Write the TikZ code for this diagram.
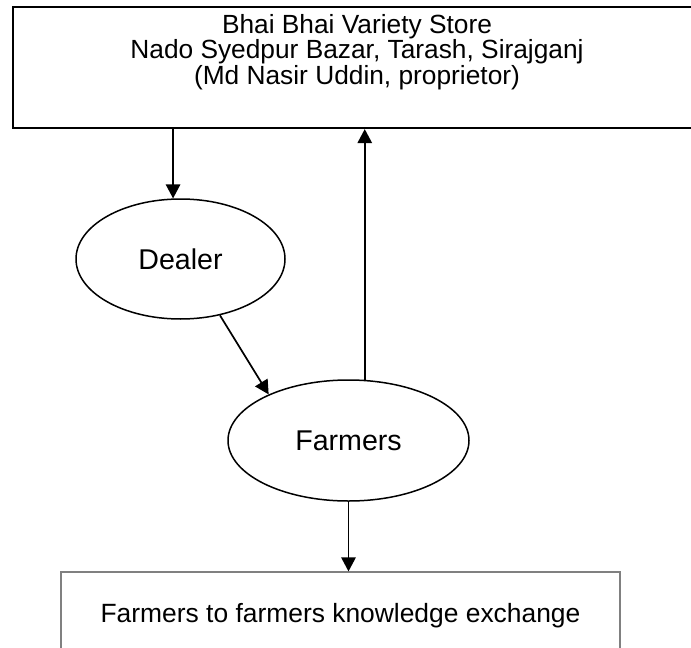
\documentclass[tikz,border=0pt]{standalone}
\usepackage{fontspec}
\setmainfont{Liberation Sans}
\usetikzlibrary{shapes.geometric,arrows.meta}
\tikzset{
  storebox/.style={draw, line width=1.1pt, minimum width=344pt, minimum height=60.5pt, inner sep=0pt},
  storetext/.style={align=center, inner sep=0pt, font=\fontsize{13.15}{12.75}\selectfont},
  party/.style={ellipse, draw, line width=0.75pt, inner sep=0pt, font=\fontsize{14.3}{17}\selectfont},
  fkebox/.style={draw=black!50, line width=0.6pt, minimum width=279.5pt, minimum height=44pt, inner sep=0pt, font=\fontsize{13.2}{16}\selectfont},
  flow/.style={-{Triangle[length=7pt,width=7.2pt]}, line width=0.85pt}
}
\begin{document}
\begin{tikzpicture}[x=0.5pt,y=-0.5pt]
    \useasboundingbox (0,0) rectangle (691,648);

    \node [storebox](store) at (357,67.5) {};
    \node [storetext,anchor=base](storeinfo) at (357,84) {Bhai Bhai Variety Store\\Nado Syedpur Bazar, Tarash, Sirajganj\\(Md Nasir Uddin, proprietor)};

    \node [party,minimum width=104.5pt,minimum height=60pt](dealer) at (180.5,259) {Dealer};
    \node [party,minimum width=120.5pt,minimum height=60.5pt](farmers) at (348.5,440.5) {Farmers};

    \node [fkebox](fke) at (340.5,616) {Farmers to farmers knowledge exchange};

    \draw [flow](dealer.97 |- store.south) -- (dealer.97);
    \draw [flow](dealer.-55.7) -- (farmers.150.5);
    \draw [flow](farmers.75.4) -- (farmers.75.4 |- store.south);
    \draw [flow](farmers.south) -- (farmers.south |- fke.north);
\end{tikzpicture}
\end{document}
